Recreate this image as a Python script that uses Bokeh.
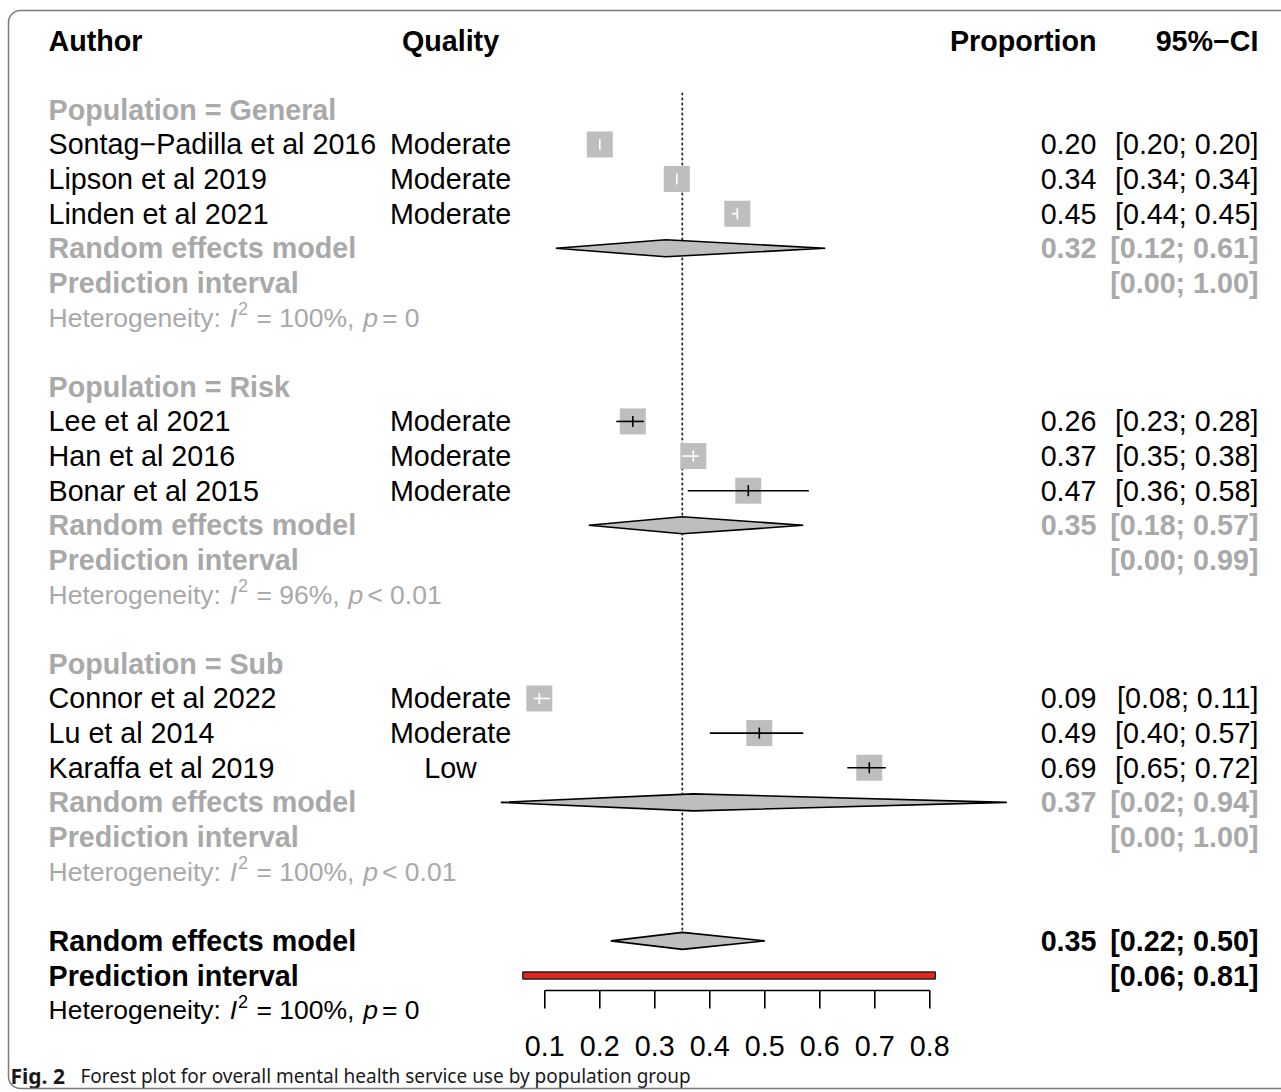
from bokeh.plotting import figure
from bokeh.models import Range1d, BoxAnnotation
from bokeh.core.properties import value
from bokeh.embed import file_html
from bokeh.resources import INLINE

# ---------------- data ----------------
authors = ["Sontag−Padilla et al 2016", "Lipson et al 2019", "Linden et al 2021",
           "Lee et al 2021", "Han et al 2016", "Bonar et al 2015",
           "Connor et al 2022", "Lu et al 2014", "Karaffa et al 2019"]
quality = ["Moderate", "Moderate", "Moderate",
           "Moderate", "Moderate", "Moderate",
           "Moderate", "Moderate", "Low"]
population = ["General", "General", "General",
              "Risk", "Risk", "Risk",
              "Sub", "Sub", "Sub"]
proportion = [0.20, 0.34, 0.45, 0.26, 0.37, 0.47, 0.09, 0.49, 0.69]
ci_lower = [0.20, 0.34, 0.44, 0.23, 0.35, 0.36, 0.08, 0.40, 0.65]
ci_upper = [0.20, 0.34, 0.45, 0.28, 0.38, 0.58, 0.11, 0.57, 0.72]

groups = ["General", "Risk", "Sub"]
group_re = [0.32, 0.35, 0.37]
group_re_lower = [0.12, 0.18, 0.02]
group_re_upper = [0.61, 0.57, 0.94]
group_pi_lower = [0.00, 0.00, 0.00]
group_pi_upper = [1.00, 0.99, 1.00]
group_i2 = ["100%", "96%", "100%"]
group_p = ["= 0", "< 0.01", "< 0.01"]

overall_re = [0.35]
overall_re_lower = [0.22]
overall_re_upper = [0.50]
overall_pi_lower = [0.06]
overall_pi_upper = [0.81]
overall_i2 = "100%"
overall_p = "= 0"

axis_ticks = [0.1, 0.2, 0.3, 0.4, 0.5, 0.6, 0.7, 0.8]
ref_value = 0.35

headers = ["Author", "Quality", "Proportion", "95%−CI"]
caption_bold = "Fig. 2"
caption_text = "Forest plot for overall mental health service use by population group"

# ---------------- layout helpers (pixels -> data) ----------------
W, H = 1281, 1092
X0_PX, X_SCALE = 489.3, 550.0
ROW0_PX, ROW_PX = 40.0, 34.63


def px_x(px):
    return (px - X0_PX) / X_SCALE


def px_row(py):
    return (py - ROW0_PX) / ROW_PX


def rows_len(d):
    return d / ROW_PX


FONT = value("Liberation Sans")
FS = "28.7px"
DARK = "#A9A9A9"
SQ_COL = "#BEBEBE"

AUTHOR_X = px_x(48)
QUAL_X = px_x(450)
PROP_X = px_x(1096)
CI_X = px_x(1258)

p = figure(width=W, height=H, output_backend="svg", toolbar_location=None,
           x_range=Range1d(px_x(0), px_x(W)), y_range=Range1d(px_row(H), px_row(0)),
           x_axis_type=None, y_axis_type=None, min_border=0)
p.grid.visible = False
p.outline_line_color = None
p.background_fill_color = "white"
p.border_fill_color = "white"

# frame border (rounded)
p.add_layout(BoxAnnotation(left=px_x(8), right=px_x(1300), top=px_row(10), bottom=px_row(1088),
                           fill_alpha=0, line_color="#7a7a7a", line_alpha=1.0, line_width=1.5,
                           border_radius=12))

# ---------------- rows ----------------
study_rows, label_rows, re_rows, pi_rows, het_rows = [], [], [], [], []
r = 2
for g in groups:
    label_rows.append(r)
    r += 1
    for pop in population:
        if pop == g:
            study_rows.append(r)
            r += 1
    re_rows.append(r); r += 1
    pi_rows.append(r); r += 1
    het_rows.append(r); r += 1
    r += 1
ov_re_row, ov_pi_row, ov_het_row = r, r + 1, r + 2

# reference dotted line
p.segment(x0=[ref_value], x1=[ref_value], y0=[px_row(93)], y1=[ov_re_row],
          line_color="#2a2a2a", line_width=1.9, line_dash="1 4", line_cap="round")


def txt(x, y, t, align="left", style="normal", color="black", size=FS, xo=0, yo=0):
    p.text(x=x, y=y, text=t, text_align=align, text_baseline="middle",
           text_font=FONT, text_font_size=size, text_font_style=style,
           text_color=color, x_offset=xo, y_offset=yo)


# headers
txt([AUTHOR_X], [0], [headers[0]], style="bold")
txt([QUAL_X], [0], [headers[1]], align="center", style="bold")
txt([PROP_X], [0], [headers[2]], align="right", style="bold")
txt([CI_X], [0], [headers[3]], align="right", style="bold")

# studies
fmt = lambda v: f"{v:.2f}"
txt([AUTHOR_X] * len(authors), study_rows, authors)
txt([QUAL_X] * len(quality), study_rows, quality, align="center")
txt([PROP_X] * len(authors), study_rows, [fmt(v) for v in proportion], align="right")
txt([CI_X] * len(authors), study_rows,
    [f"[{fmt(a)}; {fmt(b)}]" for a, b in zip(ci_lower, ci_upper)], align="right")

# squares
SQ = 26
p.rect(x=proportion, y=study_rows, width=SQ, height=SQ, width_units="screen",
       height_units="screen", fill_color=SQ_COL, line_color=None)
half = (SQ / 2) / X_SCALE
ci_cols = ["white" if (pr - lo) <= half and (hi - pr) <= half else "black"
           for pr, lo, hi in zip(proportion, ci_lower, ci_upper)]
p.segment(x0=ci_lower, x1=ci_upper, y0=study_rows, y1=study_rows,
          line_color=ci_cols, line_width=1.6)
tk = rows_len(5.5)
p.segment(x0=proportion, x1=proportion, y0=[s - tk for s in study_rows],
          y1=[s + tk for s in study_rows], line_color=ci_cols, line_width=1.6)

# subgroup labels and summaries
DH = rows_len(8.5)
txt([AUTHOR_X] * 3, label_rows, [f"Population = {g}" for g in groups], style="bold", color=DARK)
txt([AUTHOR_X] * 3, re_rows, ["Random effects model"] * 3, style="bold", color=DARK)
txt([AUTHOR_X] * 3, pi_rows, ["Prediction interval"] * 3, style="bold", color=DARK)
txt([PROP_X] * 3, re_rows, [fmt(v) for v in group_re], align="right", style="bold", color=DARK)
txt([CI_X] * 3, re_rows, [f"[{fmt(a)}; {fmt(b)}]" for a, b in zip(group_re_lower, group_re_upper)],
    align="right", style="bold", color=DARK)
txt([CI_X] * 3, pi_rows, [f"[{fmt(a)}; {fmt(b)}]" for a, b in zip(group_pi_lower, group_pi_upper)],
    align="right", style="bold", color=DARK)

p.patches(xs=[[lo, m, hi, m] for lo, m, hi in zip(group_re_lower, group_re, group_re_upper)],
          ys=[[rr, rr - DH, rr, rr + DH] for rr in re_rows],
          fill_color=SQ_COL, line_color="black", line_width=1.6)

# overall
txt([AUTHOR_X], [ov_re_row], ["Random effects model"], style="bold")
txt([AUTHOR_X], [ov_pi_row], ["Prediction interval"], style="bold")
txt([PROP_X], [ov_re_row], [fmt(overall_re[0])], align="right", style="bold")
txt([CI_X], [ov_re_row], [f"[{fmt(overall_re_lower[0])}; {fmt(overall_re_upper[0])}]"],
    align="right", style="bold")
txt([CI_X], [ov_pi_row], [f"[{fmt(overall_pi_lower[0])}; {fmt(overall_pi_upper[0])}]"],
    align="right", style="bold")
p.patches(xs=[[overall_re_lower[0], overall_re[0], overall_re_upper[0], overall_re[0]]],
          ys=[[ov_re_row, ov_re_row - DH, ov_re_row, ov_re_row + DH]],
          fill_color=SQ_COL, line_color="black", line_width=1.6)
PH = rows_len(3.5)
p.quad(left=overall_pi_lower, right=overall_pi_upper, top=[ov_pi_row - PH], bottom=[ov_pi_row + PH],
       fill_color="#e2261c", line_color="#222222", line_width=1.4)

# heterogeneity lines (mixed styles, pieces placed with measured widths)
REG = {'0': 556, '1': 556, '2': 556, '3': 556, '4': 556, '5': 556, '6': 556, '7': 556, '8': 556,
       '9': 556, '.': 278, ',': 278, ' ': 278, '=': 584, '<': 584, '%': 889, ':': 278, 'H': 722,
       'e': 556, 't': 278, 'r': 333, 'o': 556, 'g': 556, 'n': 556, 'i': 222, 'y': 500,
       'I': 278, 'p': 556}
HS = 26.5
SUP = 18.0
SPACE = 278 * HS / 1000.0


def tw(s, size):
    return sum(REG.get(c, 556) for c in s) * size / 1000.0


def het(row, i2, pv, color):
    # (text, style, size, y offset, gap after)
    pieces = [("Heterogeneity:", "normal", HS, 0, SPACE + 1.5),
              ("I", "italic", HS, 0, 1.0),
              ("2", "normal", SUP, -9, SPACE + 1.0),
              (f"= {i2},", "normal", HS, 0, SPACE + 1.5),
              ("p", "italic", HS, 0, 4.0),
              (pv, "normal", HS, 0, 0.0)]
    xo = 0.0
    for t, st, sz, yo, gap in pieces:
        txt([AUTHOR_X], [row], [t], style=st, color=color, size=f"{sz}px", xo=xo, yo=yo)
        xo += tw(t, sz) + gap


for rr, i2, pv in zip(het_rows, group_i2, group_p):
    het(rr, i2, pv, DARK)
het(ov_het_row, overall_i2, overall_p, "black")

# x axis (drawn from tick values)
AX_Y = px_row(990)
TL = rows_len(18)
p.segment(x0=[axis_ticks[0]], x1=[axis_ticks[-1]], y0=[AX_Y], y1=[AX_Y], line_color="black", line_width=1.6)
p.segment(x0=axis_ticks, x1=axis_ticks, y0=[AX_Y] * len(axis_ticks), y1=[AX_Y + TL] * len(axis_ticks),
          line_color="black", line_width=1.6)
txt(axis_ticks, [px_row(1045)] * len(axis_ticks), [f"{t:.1f}" for t in axis_ticks], align="center")

# caption
CAP_Y = px_row(1075)
p.text(x=[px_x(10)], y=[CAP_Y], text=[caption_bold], text_font=value("Noto Sans"),
       text_font_size="21px", text_font_style="bold", text_baseline="middle", text_color="#1a1a1a")
p.text(x=[px_x(80)], y=[CAP_Y], text=[caption_text], text_font=value("Noto Sans"),
       text_font_size="19px", text_baseline="middle", text_color="#1a1a1a")

open("out.html", "w").write(file_html(p, INLINE))
